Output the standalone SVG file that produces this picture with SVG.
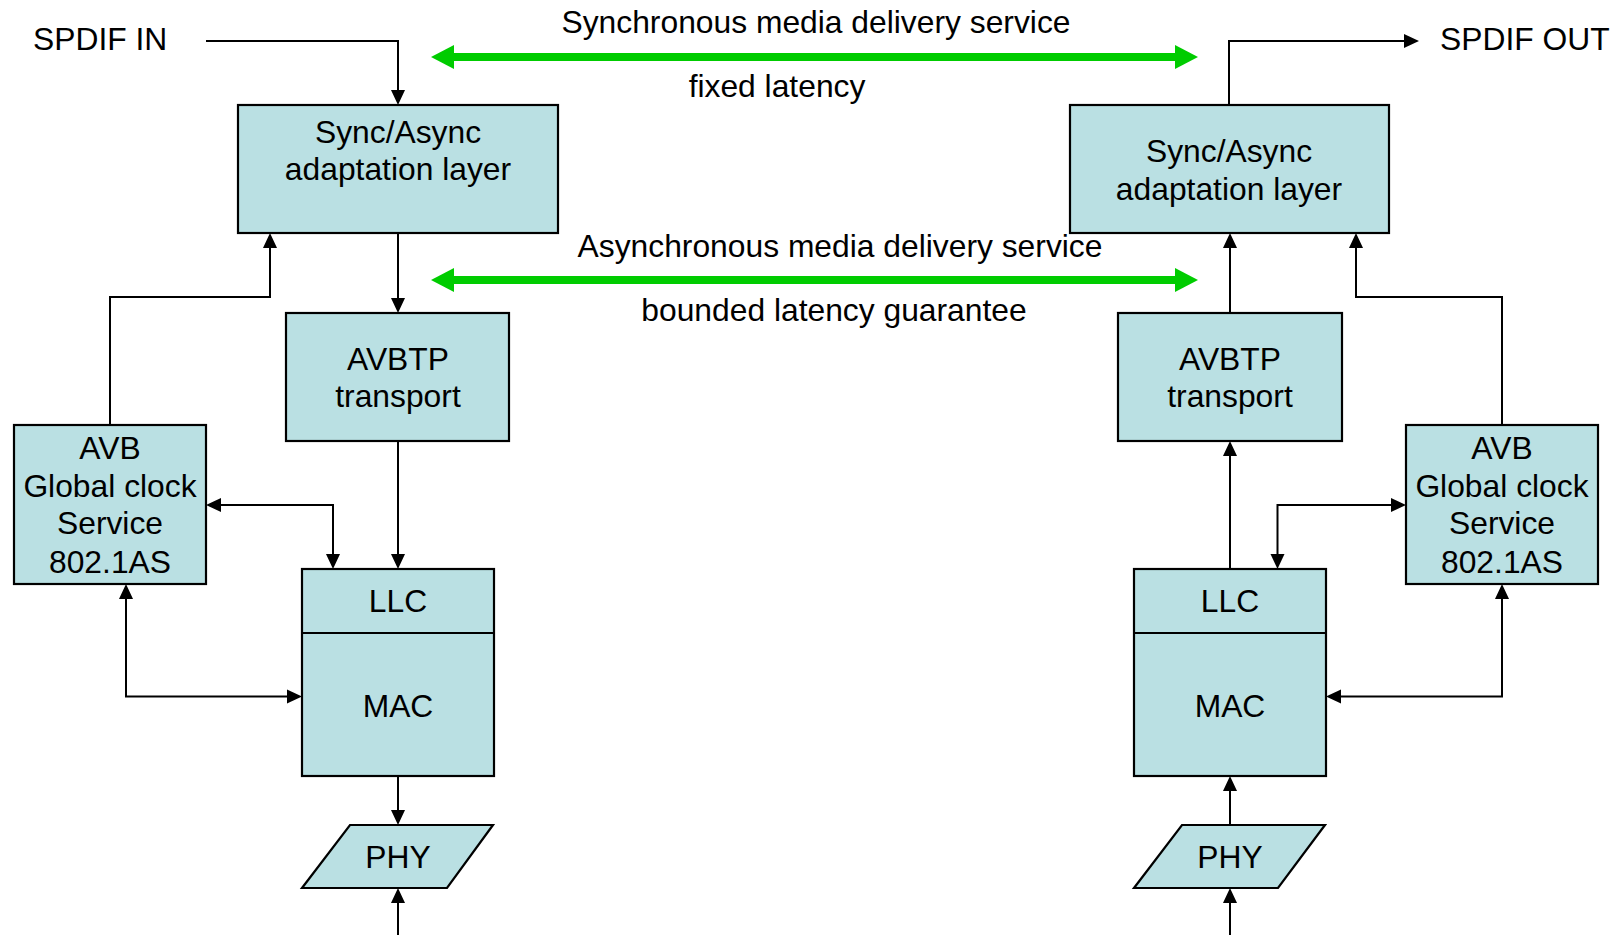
<svg xmlns="http://www.w3.org/2000/svg" width="1623" height="935" viewBox="0 0 1623 935">
  <style>
    .box { fill: #BAE0E3; stroke: #000; stroke-width: 2.2; }
    .t { font-family: "Liberation Sans", Arial, sans-serif; font-size: 31.8px; fill: #000; }
    .c { text-anchor: middle; }
    .wire { fill: none; stroke: #000; stroke-width: 2; }
    .wire.end { marker-end: url(#ah); }
    .wire.both { marker-start: url(#ah); marker-end: url(#ah); }
    .svc { fill: none; stroke: #00CC00; stroke-width: 8; marker-start: url(#gh); marker-end: url(#gh); }
  </style>
  <defs>
    <marker id="ah" markerUnits="userSpaceOnUse" markerWidth="15" markerHeight="14" refX="0" refY="7" orient="auto-start-reverse" overflow="visible">
      <path d="M0,0 L15,7 L0,14 Z" fill="#000"/>
    </marker>
    <marker id="gh" markerUnits="userSpaceOnUse" markerWidth="23" markerHeight="24" refX="0" refY="12" orient="auto-start-reverse" overflow="visible">
      <path d="M0,0 L23,12 L0,24 Z" fill="#00CC00"/>
    </marker>
  </defs>

  <rect width="1623" height="935" fill="#fff"/>

  <!-- service labels and arrows -->
  <g id="sync-service">
    <text class="t c" x="816" y="33">Synchronous media delivery service</text>
    <path class="svc" d="M454,57 H1175"/>
    <text class="t c" x="777" y="97">fixed latency</text>
  </g>
  <g id="async-service">
    <text class="t c" x="840" y="257">Asynchronous media delivery service</text>
    <path class="svc" d="M454,280 H1175"/>
    <text class="t c" x="834" y="321">bounded latency guarantee</text>
  </g>

  <g id="spdif-in"><text class="t" x="33" y="50">SPDIF IN</text></g>
  <g id="spdif-out"><text class="t" x="1440" y="50">SPDIF OUT</text></g>

  <!-- talker stack -->
  <g id="adapt-left">
    <rect class="box" x="238" y="105" width="320" height="128"/>
    <text class="t c" x="398" y="143">Sync/Async</text>
    <text class="t c" x="398" y="180">adaptation layer</text>
  </g>
  <g id="avbtp-left">
    <rect class="box" x="286" y="313" width="223" height="128"/>
    <text class="t c" x="398" y="370">AVBTP</text>
    <text class="t c" x="398" y="407">transport</text>
  </g>
  <g id="clock-left">
    <rect class="box" x="14" y="425" width="192" height="159"/>
    <text class="t c" x="110" y="459">AVB</text>
    <text class="t c" x="110" y="497">Global clock</text>
    <text class="t c" x="110" y="534">Service</text>
    <text class="t c" x="110" y="573">802.1AS</text>
  </g>
  <g id="llcmac-left">
    <rect class="box" x="302" y="569" width="192" height="207"/>
    <line x1="302" y1="633" x2="494" y2="633" stroke="#000" stroke-width="2.2"/>
    <text class="t c" x="398" y="612">LLC</text>
    <text class="t c" x="398" y="717">MAC</text>
  </g>
  <g id="phy-left">
    <polygon class="box" points="350,825 493,825 447,888 302,888"/>
    <text class="t c" x="398" y="868">PHY</text>
  </g>

  <!-- listener stack -->
  <g id="adapt-right">
    <rect class="box" x="1070" y="105" width="319" height="128"/>
    <text class="t c" x="1229" y="162">Sync/Async</text>
    <text class="t c" x="1229" y="200">adaptation layer</text>
  </g>
  <g id="avbtp-right">
    <rect class="box" x="1118" y="313" width="224" height="128"/>
    <text class="t c" x="1230" y="370">AVBTP</text>
    <text class="t c" x="1230" y="407">transport</text>
  </g>
  <g id="clock-right">
    <rect class="box" x="1406" y="425" width="192" height="159"/>
    <text class="t c" x="1502" y="459">AVB</text>
    <text class="t c" x="1502" y="497">Global clock</text>
    <text class="t c" x="1502" y="534">Service</text>
    <text class="t c" x="1502" y="573">802.1AS</text>
  </g>
  <g id="llcmac-right">
    <rect class="box" x="1134" y="569" width="192" height="207"/>
    <line x1="1134" y1="633" x2="1326" y2="633" stroke="#000" stroke-width="2.2"/>
    <text class="t c" x="1230" y="612">LLC</text>
    <text class="t c" x="1230" y="717">MAC</text>
  </g>
  <g id="phy-right">
    <polygon class="box" points="1182,825 1325,825 1278,888 1134,888"/>
    <text class="t c" x="1230" y="868">PHY</text>
  </g>

  <!-- connectors -->
  <g id="connectors">
    <path class="wire end" d="M206,41 H398 V90"/>
    <path class="wire end" d="M398,233 V298"/>
    <path class="wire end" d="M398,441 V554"/>
    <path class="wire end" d="M110,425 V297 H270 V248"/>
    <path class="wire both" d="M221,505 H333 V554"/>
    <path class="wire both" d="M126,599 V696.5 H287"/>
    <path class="wire end" d="M398,776 V810"/>
    <path class="wire end" d="M398,935 V903"/>

    <path class="wire end" d="M1229,105 V41 H1404"/>
    <path class="wire end" d="M1230,313 V248"/>
    <path class="wire end" d="M1230,569 V456"/>
    <path class="wire end" d="M1502,425 V297 H1356 V248"/>
    <path class="wire both" d="M1277.5,554 V505 H1391"/>
    <path class="wire both" d="M1502,599 V696.5 H1341"/>
    <path class="wire end" d="M1230,825 V791"/>
    <path class="wire end" d="M1230,935 V903"/>
  </g>
</svg>
